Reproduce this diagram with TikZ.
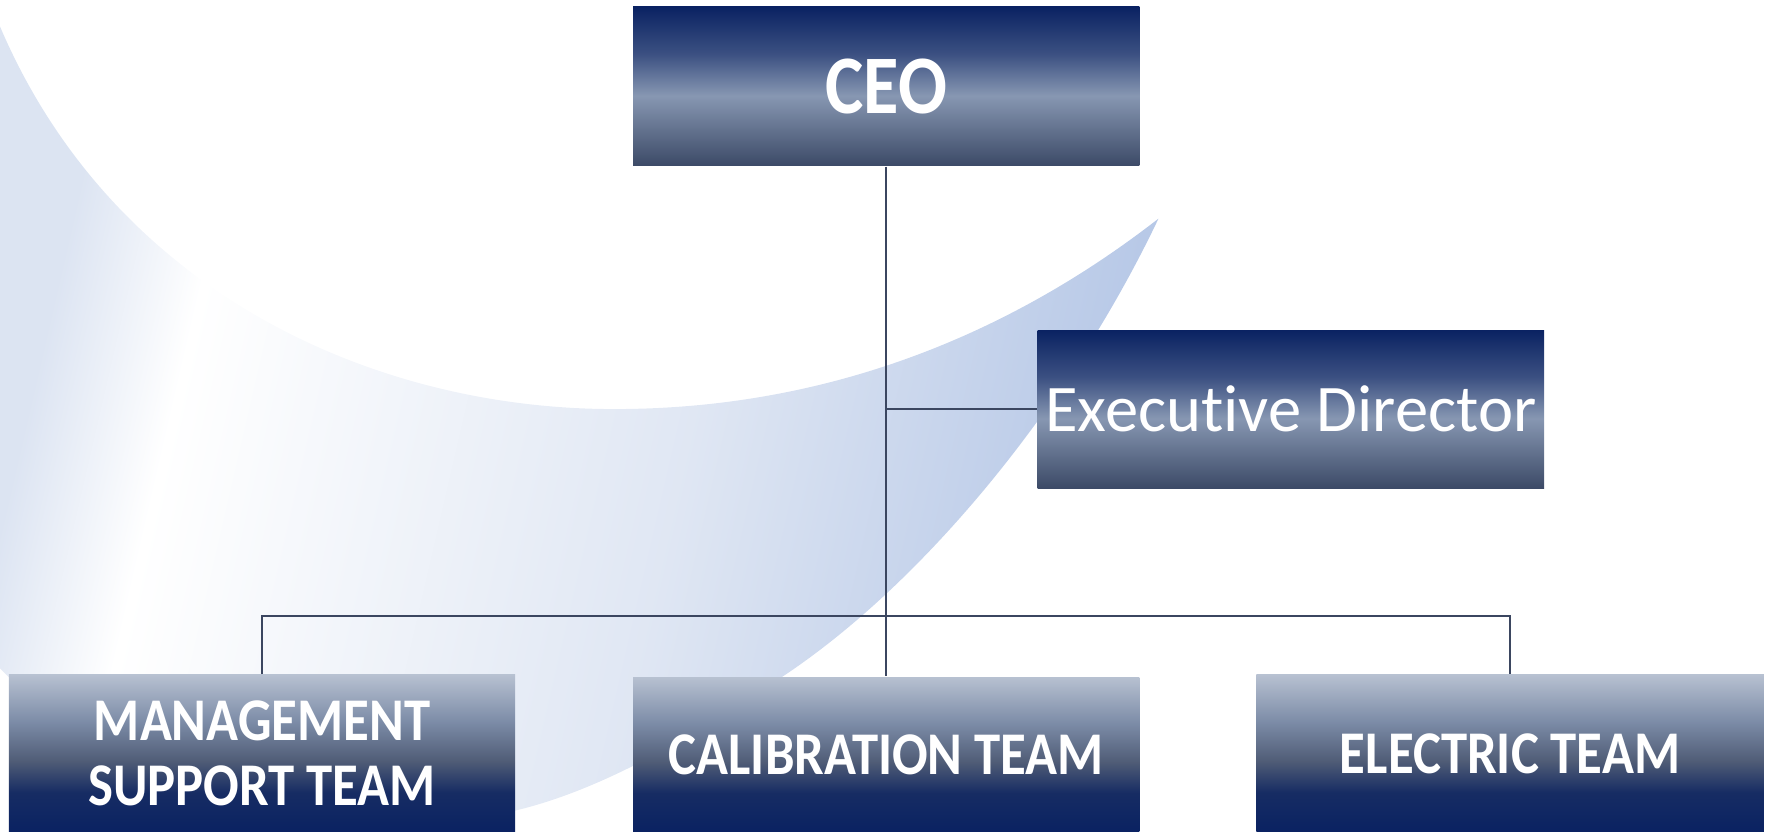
\documentclass[tikz,border=0pt]{standalone}
\usepackage{fontspec}
\usepackage{xcolor}
\setmainfont{Carlito}[Ligatures=NoCommon]
\newfontfamily\teamfont[FakeStretch=0.87,Ligatures=NoCommon]{Carlito}
\definecolor{navy}{HTML}{0A2262}
\definecolor{slate}{HTML}{3C4A67}
\definecolor{haze}{HTML}{8797B2}
\definecolor{linegrey}{HTML}{3B4660}
\definecolor{tipblue}{HTML}{B4C6E6}
\definecolor{edgeblue}{HTML}{DCE4F2}
\pgfdeclareverticalshading{topfade}{100bp}{color(0bp)=(slate); color(25bp)=(slate); color(47bp)=(haze); color(60bp)=(haze!40!navy); color(75bp)=(navy); color(100bp)=(navy)}
\pgfdeclareverticalshading{teamfade}{100bp}{color(0bp)=(navy); color(25bp)=(navy); color(37.5bp)=(navy!75!slate); color(47.5bp)=(slate!90!white); color(60bp)=(haze!85!slate); color(75bp)=(haze!60!white); color(100bp)=(haze!60!white)}
\pgfdeclarehorizontalshading{crescentfade}{100bp}{color(0bp)=(edgeblue); color(25bp)=(edgeblue); color(31.5bp)=(white); color(55bp)=(edgeblue!90!white); color(75bp)=(tipblue); color(100bp)=(tipblue)}
\tikzset{
	topbox/.style={shade,shading=topfade,minimum width=4.49cm,minimum height=1.41cm,inner sep=0pt,text=white},%
	teambox/.style={shade,shading=teamfade,minimum width=4.49cm,minimum height=1.39cm,inner sep=0pt,text=white,align=center},%
	bosslabel/.style={font=\teamfont\bfseries\fontsize{21}{24}\selectfont},%
	execlabel/.style={font=\fontsize{16.8}{19}\selectfont},%
	teamlabel/.style={font=\teamfont\bfseries\fontsize{15.3}{16.6}\selectfont},%
	orgline/.style={draw=linegrey,line width=0.5pt},%
	crescent/.style={shading=crescentfade,shading angle=-13},%
}
\def\busy{191}

\begin{document}
\begin{tikzpicture}[%
		x=0.01cm,y=0.01cm,%
		]
		\useasboundingbox (0,0) rectangle (1568,738);
		% background crescent
		\shade[crescent] (0,714.5) .. controls (100,480) and (330,375) .. (545,375)
			.. controls (760,375) and (920,460) .. (1028,544)
			.. controls (950,380) and (820,220) .. (692,136)
			.. controls (600,75) and (520,30) .. (440,15)
			.. controls (250,-20) and (60,80) .. (0,145) -- cycle;
		% boxes
		\node[topbox,bosslabel] (ceo) at (786.5,661.5) {CEO};
		\node[topbox,execlabel,minimum height=1.40cm] (exec) at (1145.5,375) {Executive Director};
		\node[teambox,teamlabel] (mgmt) at (232.5,69.5) {MANAGEMENT\\SUPPORT TEAM};
		\node[teambox,teamlabel,minimum height=1.37cm] (calib) at (786.5,68.5) {CALIBRATION TEAM};
		\node[teambox,teamlabel,minimum width=4.50cm] (elec) at (1340,69.5) {ELECTRIC TEAM};
		% connectors
		\coordinate (bus) at (786.5,\busy);
		\draw[orgline] (ceo.south) -- (calib.north);
		\draw[orgline] (exec.west) -- (exec.west -| ceo.south);
		\draw[orgline] (mgmt.north) |- (bus) -| (elec.north);
	\end{tikzpicture}
\end{document}
